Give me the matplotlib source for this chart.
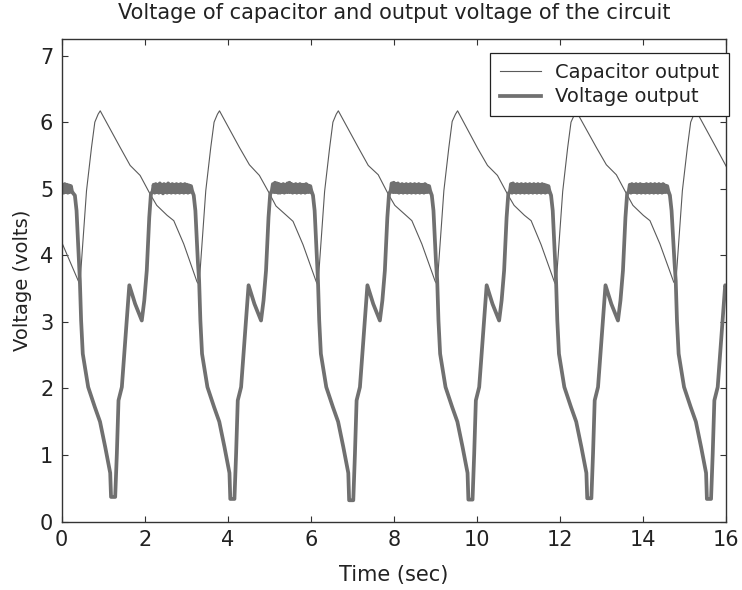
#!/usr/bin/env python
#
# Spanning van de condensator en uitgangsspanning van de schakeling
#
import matplotlib
matplotlib.use('Agg')
import matplotlib.pyplot as plt

################################################################################
# Data
################################################################################
# condensatorspanning [V]
cap_t = [0.00,
         0.44, 0.60, 0.72, 0.80, 0.88, 0.93, 1.41, 1.65, 1.89, 2.13, 2.29, 2.54, 2.70, 2.94, 3.26,
         3.31, 3.47, 3.59, 3.67, 3.75, 3.80, 4.28, 4.52, 4.76, 5.00, 5.16, 5.41, 5.57, 5.81, 6.13,
         6.17, 6.33, 6.45, 6.53, 6.61, 6.66, 7.14, 7.38, 7.62, 7.86, 8.02, 8.27, 8.43, 8.67, 8.99,
         9.04, 9.20, 9.32, 9.40, 9.48, 9.53, 10.01, 10.25, 10.49, 10.73, 10.89, 11.14, 11.30, 11.54, 11.86,
         11.90, 12.06, 12.18, 12.26, 12.34, 12.39, 12.87, 13.11, 13.35, 13.59, 13.75, 14.00, 14.16, 14.40, 14.73,
         14.78, 14.94, 15.06, 15.14, 15.22, 15.27, 15.75, 16.00]
cap_v = [4.20,
         3.56, 4.97, 5.62, 6.00, 6.12, 6.17, 5.62, 5.35, 5.20, 4.92, 4.75, 4.60, 4.52, 4.17, 3.60,
         3.56, 4.97, 5.62, 6.00, 6.12, 6.17, 5.62, 5.36, 5.20, 4.93, 4.74, 4.60, 4.51, 4.16, 3.60,
         3.55, 4.96, 5.61, 6.00, 6.12, 6.17, 5.62, 5.35, 5.21, 4.92, 4.75, 4.61, 4.52, 4.17, 3.61,
         3.56, 4.97, 5.62, 6.01, 6.12, 6.17, 5.61, 5.35, 5.20, 4.92, 4.75, 4.60, 4.52, 4.16, 3.60,
         3.55, 4.96, 5.62, 6.00, 6.11, 6.16, 5.62, 5.36, 5.21, 4.93, 4.75, 4.60, 4.52, 4.17, 3.60,
         3.56, 4.97, 5.62, 6.00, 6.12, 6.17, 5.62, 5.33]

# uitgangsspanning [V]; de vlakke stukken rond 5 V bevatten rimpel
volt_t = [
    # vlak stuk aan het begin + daling
    0.000, 0.025, 0.050, 0.075, 0.100, 0.125, 0.150, 0.175, 0.200, 0.225, 0.250,
    0.28, 0.32, 0.36, 0.42,
    # periode 1
    0.44, 0.47, 0.51, 0.64, 0.80, 0.925, 1.05, 1.17, 1.19, 1.29, 1.33, 1.37, 1.45, 1.55, 1.63,
    1.77, 1.93, 1.99, 2.05, 2.11, 2.15,
    2.190, 2.215, 2.240, 2.265, 2.290, 2.315, 2.340, 2.365, 2.390, 2.415,
    2.440, 2.465, 2.490, 2.515, 2.540, 2.565, 2.590, 2.615, 2.640, 2.665,
    2.690, 2.715, 2.740, 2.765, 2.790, 2.815, 2.840, 2.865, 2.890, 2.915,
    2.940, 2.965, 2.990, 3.015, 3.040, 3.065, 3.090, 3.115, 3.140,
    3.18, 3.22, 3.28,
    # periode 2
    3.31, 3.34, 3.38, 3.51, 3.67, 3.795, 3.92, 4.04, 4.06, 4.16, 4.20, 4.24, 4.32, 4.42, 4.50,
    4.64, 4.80, 4.86, 4.92, 4.98, 5.02,
    5.060, 5.085, 5.110, 5.135, 5.160, 5.185, 5.210, 5.235, 5.260, 5.285,
    5.310, 5.335, 5.360, 5.385, 5.410, 5.435, 5.460, 5.485, 5.510, 5.535,
    5.560, 5.585, 5.610, 5.635, 5.660, 5.685, 5.710, 5.735, 5.760, 5.785,
    5.810, 5.835, 5.860, 5.885, 5.910, 5.935, 5.960, 5.985, 6.010,
    6.05, 6.09, 6.15,
    # periode 3
    6.17, 6.20, 6.24, 6.37, 6.53, 6.655, 6.78, 6.90, 6.92, 7.02, 7.06, 7.10, 7.18, 7.28, 7.36,
    7.50, 7.66, 7.72, 7.78, 7.84, 7.88,
    7.920, 7.945, 7.970, 7.995, 8.020, 8.045, 8.070, 8.095, 8.120, 8.145,
    8.170, 8.195, 8.220, 8.245, 8.270, 8.295, 8.320, 8.345, 8.370, 8.395,
    8.420, 8.445, 8.470, 8.495, 8.520, 8.545, 8.570, 8.595, 8.620, 8.645,
    8.670, 8.695, 8.720, 8.745, 8.770, 8.795, 8.820, 8.845, 8.870,
    8.91, 8.95, 9.01,
    # periode 4
    9.04, 9.07, 9.11, 9.24, 9.40, 9.525, 9.65, 9.77, 9.79, 9.89, 9.93, 9.97, 10.05, 10.15, 10.23,
    10.37, 10.53, 10.59, 10.65, 10.71, 10.75,
    10.790, 10.815, 10.840, 10.865, 10.890, 10.915, 10.940, 10.965, 10.990, 11.015,
    11.040, 11.065, 11.090, 11.115, 11.140, 11.165, 11.190, 11.215, 11.240, 11.265,
    11.290, 11.315, 11.340, 11.365, 11.390, 11.415, 11.440, 11.465, 11.490, 11.515,
    11.540, 11.565, 11.590, 11.615, 11.640, 11.665, 11.690, 11.715, 11.740,
    11.78, 11.82, 11.88,
    # periode 5
    11.90, 11.93, 11.97, 12.10, 12.26, 12.385, 12.51, 12.63, 12.65, 12.75, 12.79, 12.83, 12.91, 13.01, 13.09,
    13.23, 13.39, 13.45, 13.51, 13.57, 13.61,
    13.650, 13.675, 13.700, 13.725, 13.750, 13.775, 13.800, 13.825, 13.850, 13.875,
    13.900, 13.925, 13.950, 13.975, 14.000, 14.025, 14.050, 14.075, 14.100, 14.125,
    14.150, 14.175, 14.200, 14.225, 14.250, 14.275, 14.300, 14.325, 14.350, 14.375,
    14.400, 14.425, 14.450, 14.475, 14.500, 14.525, 14.550, 14.575, 14.600,
    14.64, 14.68, 14.75,
    # periode 6 (afgebroken bij 16 s)
    14.78, 14.81, 14.85, 14.98, 15.14, 15.265, 15.39, 15.51, 15.53, 15.63, 15.67, 15.71, 15.79, 15.89, 15.97,
    16.00]
volt_v = [
    5.00, 5.06, 4.94, 5.07, 4.95, 5.06, 4.94, 5.05, 4.95, 5.04, 4.96,
    4.93, 4.90, 4.67, 3.90,
    # periode 1
    3.62, 3.02, 2.52, 2.02, 1.72, 1.50, 1.12, 0.73, 0.37, 0.37, 1.02, 1.82, 2.02, 2.87, 3.55,
    3.27, 3.02, 3.32, 3.77, 4.57, 4.92,
    4.96, 5.06, 4.94, 5.07, 4.95, 5.06, 4.94, 5.08, 4.95, 5.06,
    4.93, 5.07, 4.95, 5.06, 4.94, 5.08, 4.95, 5.06, 4.94, 5.07,
    4.95, 5.06, 4.94, 5.07, 4.95, 5.06, 4.94, 5.07, 4.95, 5.06,
    4.94, 5.07, 4.95, 5.06, 4.94, 5.05, 4.95, 5.04, 4.97,
    4.90, 4.67, 3.90,
    # periode 2
    3.62, 3.02, 2.52, 2.02, 1.72, 1.50, 1.12, 0.73, 0.34, 0.34, 1.02, 1.82, 2.02, 2.87, 3.55,
    3.27, 3.02, 3.32, 3.77, 4.57, 4.92,
    4.97, 5.07, 4.95, 5.09, 4.95, 5.08, 4.94, 5.07, 4.94, 5.06,
    4.95, 5.07, 4.94, 5.06, 4.95, 5.08, 4.95, 5.09, 4.95, 5.07,
    4.94, 5.06, 4.95, 5.07, 4.94, 5.06, 4.95, 5.07, 4.94, 5.06,
    4.95, 5.06, 4.94, 5.07, 4.95, 5.05, 4.95, 5.04, 4.97,
    4.90, 4.67, 3.90,
    # periode 3
    3.62, 3.02, 2.52, 2.02, 1.72, 1.50, 1.12, 0.73, 0.32, 0.32, 1.02, 1.82, 2.02, 2.87, 3.55,
    3.27, 3.02, 3.32, 3.77, 4.57, 4.92,
    4.97, 5.08, 4.95, 5.09, 4.95, 5.07, 4.95, 5.08, 4.94, 5.06,
    4.95, 5.07, 4.94, 5.06, 4.95, 5.07, 4.94, 5.06, 4.95, 5.07,
    4.94, 5.06, 4.95, 5.07, 4.94, 5.06, 4.95, 5.07, 4.94, 5.06,
    4.95, 5.06, 4.94, 5.07, 4.95, 5.05, 4.95, 5.04, 4.97,
    4.90, 4.67, 3.90,
    # periode 4
    3.62, 3.02, 2.52, 2.02, 1.72, 1.50, 1.12, 0.73, 0.33, 0.33, 1.02, 1.82, 2.02, 2.87, 3.55,
    3.27, 3.02, 3.32, 3.77, 4.57, 4.92,
    4.96, 5.07, 4.94, 5.08, 4.95, 5.06, 4.94, 5.07, 4.95, 5.06,
    4.94, 5.07, 4.95, 5.06, 4.94, 5.07, 4.95, 5.06, 4.94, 5.07,
    4.95, 5.06, 4.94, 5.07, 4.95, 5.06, 4.94, 5.07, 4.95, 5.06,
    4.94, 5.07, 4.95, 5.06, 4.94, 5.05, 4.95, 5.04, 4.97,
    4.90, 4.67, 3.90,
    # periode 5
    3.62, 3.02, 2.52, 2.02, 1.72, 1.50, 1.12, 0.73, 0.35, 0.35, 1.02, 1.82, 2.02, 2.87, 3.55,
    3.27, 3.02, 3.32, 3.77, 4.57, 4.92,
    4.96, 5.06, 4.94, 5.07, 4.95, 5.06, 4.95, 5.07, 4.94, 5.06,
    4.95, 5.07, 4.94, 5.06, 4.95, 5.06, 4.94, 5.07, 4.95, 5.06,
    4.94, 5.07, 4.95, 5.06, 4.94, 5.07, 4.95, 5.06, 4.94, 5.07,
    4.95, 5.06, 4.94, 5.07, 4.95, 5.05, 4.95, 5.04, 4.97,
    4.90, 4.67, 3.90,
    # periode 6
    3.62, 3.02, 2.52, 2.02, 1.72, 1.50, 1.12, 0.73, 0.34, 0.34, 1.02, 1.82, 2.02, 2.87, 3.55,
    3.50]

xticks = [0, 2, 4, 6, 8, 10, 12, 14, 16]
yticks = [0, 1, 2, 3, 4, 5, 6, 7]

################################################################################
# Plot
################################################################################
plt.rcParams['font.family'] = 'DejaVu Sans'
txt = '#222222'

fig = plt.figure(figsize=(7.42, 5.90), dpi=100)
ax = fig.add_axes([0.083, 0.116, 0.896, 0.818])

ax.plot(cap_t, cap_v, color='#5a5a5a', lw=0.8, label='Capacitor output')
ax.plot(volt_t, volt_v, color='#707070', lw=2.7, label='Voltage output')

ax.set_xlim(0, 16)
ax.set_ylim(0, 7.25)
ax.set_xticks(xticks)
ax.set_yticks(yticks)
ax.tick_params(direction='in', top=True, right=True, length=4, width=0.8,
               labelsize=15, labelcolor=txt, color='#333333', pad=6)
for s in ax.spines.values():
    s.set_color('#333333')
    s.set_linewidth(1.0)

ax.set_xlabel('Time (sec)', fontsize=15, color=txt, labelpad=11)
ax.set_ylabel('Voltage (volts)', fontsize=14, color=txt, labelpad=6)
ax.set_title('Voltage of capacitor and output voltage of the circuit',
             fontsize=15, color=txt, pad=14)

leg = ax.legend(loc='upper right', bbox_to_anchor=(1.004, 0.971), borderaxespad=0,
                fontsize=14, fancybox=False, framealpha=1, edgecolor='#222222',
                handlelength=2.1, handletextpad=0.75, labelspacing=0.3, borderpad=0.5)
leg.get_frame().set_linewidth(0.9)
for t in leg.get_texts():
    t.set_color(txt)

fig.savefig('out.png', dpi=100)
